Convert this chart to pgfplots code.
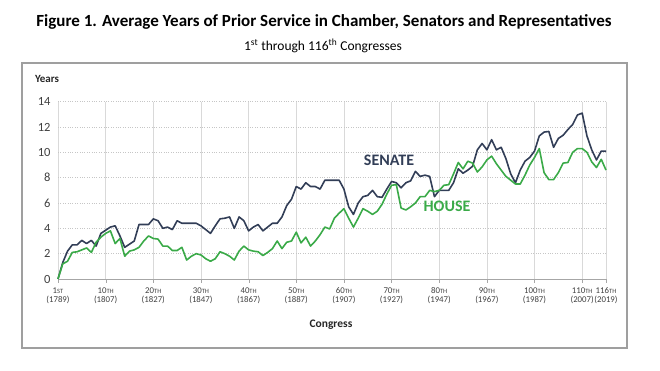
\documentclass[border=0pt]{standalone}
\usepackage{pgfplots}
\usepackage{pgfplotstable}
\pgfplotsset{compat=1.18}
\usepackage{fontspec}
\setmainfont{Carlito}
\definecolor{senate}{HTML}{323E57}
\definecolor{house}{HTML}{3AAA48}
\definecolor{txt}{HTML}{404040}
\newcommand{\sth}[1]{{\fontsize{6.5}{6.5}\selectfont #1}}
\newcommand{\lab}[2]{\begin{tabular}{@{}c@{}}\rule{0pt}{7pt}#1\\[-1.5pt]#2\end{tabular}}

\pgfplotstableread{
c senate house
1 0 0
2 1.3 1.2
3 2.2 1.4
4 2.7 2.1
5 2.7 2.15
6 3.05 2.3
7 2.8 2.45
8 3.05 2.1
9 2.6 2.9
10 3.6 3.3
11 3.85 3.6
12 4.1 3.8
13 4.2 2.8
14 3.4 3.2
15 2.5 1.8
16 2.75 2.2
17 3.0 2.3
18 4.3 2.5
19 4.3 3.0
20 4.3 3.4
21 4.75 3.2
22 4.6 3.15
23 4.0 2.6
24 4.1 2.6
25 3.9 2.25
26 4.6 2.25
27 4.4 2.5
28 4.4 1.5
29 4.4 1.8
30 4.4 2.0
31 4.2 1.9
32 3.9 1.6
33 3.6 1.4
34 4.2 1.6
35 4.75 2.15
36 4.8 2.0
37 4.9 1.8
38 4.0 1.5
39 4.9 2.2
40 4.6 2.6
41 3.8 2.3
42 4.1 2.2
43 4.3 2.15
44 3.8 1.85
45 4.1 2.1
46 4.4 2.4
47 4.4 3.0
48 4.9 2.4
49 5.8 2.9
50 6.3 3.0
51 7.3 3.7
52 7.1 2.85
53 7.6 3.3
54 7.3 2.6
55 7.3 3.0
56 7.1 3.5
57 7.8 4.1
58 7.8 3.95
59 7.8 4.8
60 7.8 5.2
61 7.1 5.55
62 5.7 4.8
63 5.1 4.1
64 6.0 4.8
65 6.5 5.55
66 6.6 5.35
67 7.0 5.1
68 6.5 5.35
69 6.45 5.9
70 7.1 6.7
71 7.7 7.4
72 7.6 7.45
73 7.2 5.6
74 7.6 5.45
75 7.75 5.7
76 8.5 6.0
77 8.1 6.5
78 8.2 6.5
79 8.1 7.0
80 6.5 6.9
81 7.0 7.0
82 7.0 7.4
83 7.0 7.45
84 7.6 8.3
85 8.7 9.2
86 8.35 8.7
87 8.6 9.3
88 8.9 9.15
89 10.2 8.45
90 10.7 8.85
91 10.2 9.4
92 11.0 9.7
93 10.2 9.1
94 10.4 8.6
95 9.5 8.1
96 8.3 7.8
97 7.6 7.5
98 8.6 7.5
99 9.3 8.2
100 9.6 9.0
101 10.1 9.6
102 11.3 10.3
103 11.6 8.4
104 11.65 7.85
105 10.4 7.85
106 11.1 8.4
107 11.35 9.15
108 11.8 9.2
109 12.2 10.0
110 12.95 10.3
111 13.1 10.3
112 11.3 10.0
113 10.2 9.25
114 9.4 8.8
115 10.1 9.45
116 10.1 8.6
}\datatable

\begin{document}
\begin{tikzpicture}[x=1pt,y=1pt]
\path[use as bounding box] (0,0) rectangle (660,371);
\draw[gray!75, line width=1.2pt] (22,23) rectangle (627,308);
\node[font=\fontsize{17}{17}\selectfont\bfseries] at (324,349) {Figure 1. Average Years of Prior Service in Chamber, Senators and Representatives};
\node[font=\fontsize{13.5}{13.5}\selectfont] at (323,325) {1\textsuperscript{st} through 116\textsuperscript{th} Congresses};
\node[font=\fontsize{11}{11}\selectfont\bfseries, text=black!85] at (47,292) {Years};
\node[font=\fontsize{11.5}{11.5}\selectfont\bfseries, text=black!85] at (331,46) {Congress};
\begin{axis}[
  at={(58pt,92pt)}, anchor=south west,
  scale only axis, width=548pt, height=177.3pt,
  xmin=1, xmax=116, ymin=0, ymax=14,
  axis x line=bottom, axis y line=left,
  x axis line style={gray!70, -},
  y axis line style={draw=none},
  ytick={0,2,...,14},
  xtick={1,11,21,31,41,51,61,71,81,91,101,111},
  xticklabels={{\lab{1\sth{ST}}{(1789)}},{\lab{10\sth{TH}}{(1807)}},{\lab{20\sth{TH}}{(1827)}},{\lab{30\sth{TH}}{(1847)}},{\lab{40\sth{TH}}{(1867)}},{\lab{50\sth{TH}}{(1887)}},{\lab{60\sth{TH}}{(1907)}},{\lab{70\sth{TH}}{(1927)}},{\lab{80\sth{TH}}{(1947)}},{\lab{90\sth{TH}}{(1967)}},{\lab{100\sth{TH}}{(1987)}},{\lab{110\sth{TH}}{(2007)}}},
  extra x ticks={116},
  extra x tick labels={{\lab{116\sth{TH}}{(2019)}}},
  xticklabel style={font=\fontsize{8.8}{10.5}\selectfont, text=txt, anchor=north, inner xsep=0pt},
  yticklabel style={font=\fontsize{12.5}{12.5}\selectfont, text=txt},
  /pgf/number format/assume math mode=true,
  xmajorgrids, ymajorgrids,
  x grid style={gray!30, line width=0.6pt},
  y grid style={gray!45, dotted, line width=0.6pt},
  extra x tick style={grid=major, xtick style={gray!70}},
  ytick style={draw=none},
  xtick style={gray!70},
  tick align=outside,
  major tick length=4pt,
  clip=false,
]
\addplot[senate, line width=1.6pt, line join=round] table[x=c, y=senate] {\datatable};
\addplot[house, line width=1.6pt, line join=round] table[x=c, y=house] {\datatable};
\end{axis}
\node[font=\fontsize{16}{16}\selectfont\bfseries, text=senate] at (389,211) {SENATE};
\node[font=\fontsize{16}{16}\selectfont\bfseries, text=house] at (447,165) {HOUSE};
\end{tikzpicture}
\end{document}
